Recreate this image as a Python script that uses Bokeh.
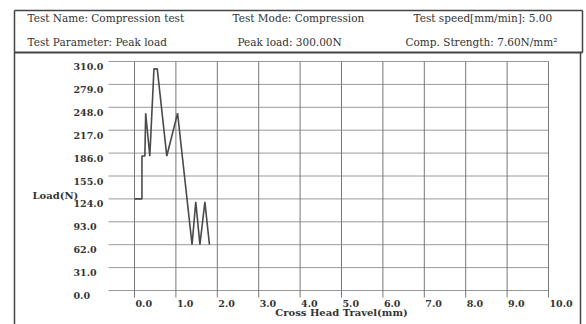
from bokeh.plotting import figure
from bokeh.models import Range1d
from bokeh.embed import file_html
from bokeh.resources import INLINE
from bokeh.core.properties import value

# ---------------- data ----------------
travel = [0.0, 0.18, 0.18, 0.25, 0.27, 0.37, 0.47, 0.55, 0.78, 1.04, 1.39, 1.48, 1.58, 1.70, 1.81]
load = [124, 124, 182, 182, 240, 182, 300, 300, 182, 240, 62, 120, 62, 120, 62]

x_ticks = [0, 1, 2, 3, 4, 5, 6, 7, 8, 9, 10]
x_labels = ["0.0", "1.0", "2.0", "3.0", "4.0", "5.0", "6.0", "7.0", "8.0", "9.0", "10.0"]
y_ticks = [0, 31, 62, 93, 124, 155, 186, 217, 248, 279, 310]
y_labels = ["0.0", "31.0", "62.0", "93.0", "124.0", "155.0", "186.0", "217.0", "248.0", "279.0", "310.0"]

header_row1 = ["Test Name: Compression test", "Test Mode: Compression", "Test speed[mm/min]: 5.00"]
header_row2 = ["Test Parameter: Peak load", "Peak load: 300.00N", "Comp. Strength: 7.60N/mm\u00b2"]
x_title = "Cross Head Travel(mm)"
y_title = "Load(N)"

# ---------------- layout ----------------
W, H = 586, 324
ORIGIN = 0                    # page px of the canvas' top-left corner
X0, SX = 134.0, 41.4          # page px of travel 0, px per mm
Y0, SY = 290.0, 229.0 / 310   # page px of load 0, px per N


def px2x(px):
    return (px - X0) / SX


def py2y(py):
    return (Y0 - py) / SY


p = figure(width=W, height=H, output_backend="svg", toolbar_location=None,
           x_axis_type=None, y_axis_type=None,
           x_range=Range1d(px2x(ORIGIN), px2x(ORIGIN + W)),
           y_range=Range1d(py2y(ORIGIN + H), py2y(ORIGIN)),
           min_border=0, outline_line_color=None)
p.grid.visible = False
p.background_fill_color = "white"
p.border_fill_color = "white"

serif = value("DejaVu Serif")

# grid: horizontal lines
grid_left = px2x(108)
p.segment(x0=[grid_left] * len(y_ticks), y0=y_ticks,
          x1=[x_ticks[-1]] * len(y_ticks), y1=y_ticks,
          line_color="#9a9a9a", line_width=1)
# grid: vertical lines (extend below as ticks)
tick_bottom = py2y(Y0 + 7)
p.segment(x0=x_ticks, y0=[tick_bottom] * len(x_ticks),
          x1=x_ticks, y1=[y_ticks[-1]] * len(x_ticks),
          line_color="#777777", line_width=1)

# curve
p.line(travel, load, line_color="#4a4a4a", line_width=1.6)

# tick labels
p.text(x=[px2x(73)] * len(y_ticks), y=y_ticks, text=y_labels, y_offset=5,
       text_align="left", text_baseline="middle", text_font=serif,
       text_font_style="bold", text_font_size="9.5px", text_color="#333333")
p.text(x=x_ticks, y=[py2y(Y0)] * len(x_ticks), text=x_labels, x_offset=1, y_offset=13,
       text_align="left", text_baseline="middle", text_font=serif,
       text_font_style="bold", text_font_size="9.5px", text_color="#333333")

# axis titles
p.text(x=[(x_ticks[0] + x_ticks[-1]) / 2], y=[py2y(312)], text=[x_title],
       text_align="center", text_baseline="middle", text_font=serif,
       text_font_style="bold", text_font_size="10px", text_color="#333333")
p.text(x=[px2x(32)], y=[py2y(195)], text=[y_title],
       text_align="left", text_baseline="middle", text_font=serif,
       text_font_style="bold", text_font_size="10px", text_color="#333333")

# header texts
p.text(x=[px2x(27), px2x(232), px2x(413)], y=[py2y(17)] * 3, text=header_row1,
       text_align="left", text_baseline="middle", text_font=serif,
       text_font_size="10.5px", text_color="#333333")
p.text(x=[px2x(27), px2x(237), px2x(405)], y=[py2y(41)] * 3, text=header_row2,
       text_align="left", text_baseline="middle", text_font=serif,
       text_font_size="10.5px", text_color="#333333")

# frame borders
L, R, RH, T, S, B = 14, 580, 582, 10, 52, ORIGIN + H
p.segment(x0=[px2x(L), px2x(RH), px2x(L), px2x(R)],
          y0=[py2y(T), py2y(T), py2y(T), py2y(S)],
          x1=[px2x(RH), px2x(RH), px2x(L), px2x(R)],
          y1=[py2y(T), py2y(S), py2y(B), py2y(B)],
          line_color="#444444", line_width=1.5)
p.segment(x0=[px2x(L)], y0=[py2y(S)], x1=[px2x(RH)], y1=[py2y(S)],
          line_color="#444444", line_width=2)

open("out.html", "w").write(file_html(p, INLINE))
